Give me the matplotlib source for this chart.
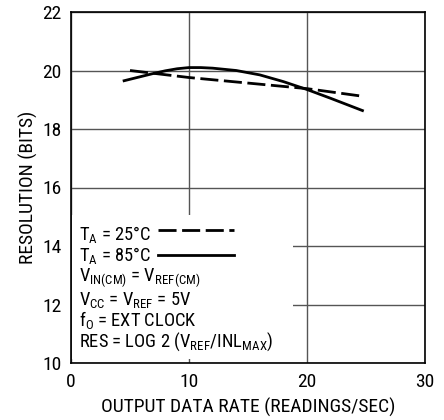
import matplotlib
matplotlib.use("Agg")
import matplotlib.pyplot as plt
from matplotlib import font_manager as fm

names = {f.name for f in fm.fontManager.ttflist}
FONT = "Roboto Condensed" if "Roboto Condensed" in names else "Liberation Sans"
plt.rcParams['font.family'] = [FONT, 'DejaVu Sans']
plt.rcParams['mathtext.fontset'] = 'custom'
plt.rcParams['mathtext.rm'] = FONT
plt.rcParams['mathtext.it'] = FONT
plt.rcParams['mathtext.default'] = 'rm'

# data
x_25 = [5, 10, 15, 20, 24.7]
y_25 = [20.0, 19.76, 19.57, 19.38, 19.12]
x_85 = [4.5, 6, 7, 8, 9, 10, 11, 12, 14, 16, 18, 20, 22, 24.7]
y_85 = [19.65, 19.8, 19.9, 19.99, 20.06, 20.1, 20.1, 20.08, 20.0, 19.85, 19.62, 19.35, 19.05, 18.63]
x_ticks = [0, 10, 20, 30]
y_ticks = [10, 12, 14, 16, 18, 20, 22]
legend_lines = [
    r"T$_{A}$ = 25°C",
    r"T$_{A}$ = 85°C",
    r"V$_{IN(CM)}$ = V$_{REF(CM)}$",
    r"V$_{CC}$ = V$_{REF}$ = 5V",
    r"f$_{O}$ = EXT CLOCK",
    r"RES = LOG 2 (V$_{REF}$/INL$_{MAX}$)",
]

FS = 14
LFS = 13.3
W, H = 444, 420
fig = plt.figure(figsize=(W/100, H/100), dpi=100)
ax = fig.add_axes([71/W, 1-363/H, (425-71)/W, (363-12)/H])
ax.set_xlim(0, 30)
ax.set_ylim(10, 22)
ax.set_xticks(x_ticks)
ax.set_yticks(y_ticks)
ax.tick_params(length=0, labelsize=FS, pad=7)
ax.grid(True, color='#555555', linewidth=1.0)
ax.set_axisbelow(True)
for s in ax.spines.values():
    s.set_linewidth(1.2)
ax.set_xlabel("OUTPUT DATA RATE (READINGS/SEC)", fontsize=FS, labelpad=5)
ax.set_ylabel("RESOLUTION (BITS)", fontsize=FS, labelpad=3)

ax.plot(x_25, y_25, color='black', lw=2.0, dashes=(6.5, 2), zorder=4)
ax.plot(x_85, y_85, color='black', lw=2.0, zorder=4)

# white legend box
ax.add_patch(plt.Rectangle((0.1, 10.14), 18.7, 15.05-10.14, facecolor='white',
                           edgecolor='none', zorder=3))
ys = [14.205, 13.48, 12.80, 12.0, 11.25, 10.55]
for t, yy in zip(legend_lines, ys):
    ax.text(0.65, yy, t, fontsize=LFS, va='baseline', ha='left', zorder=5)
ax.plot([7.35, 13.8], [14.53, 14.53], color='black', lw=2.0, dashes=(6.5, 2), zorder=5)
ax.plot([7.35, 13.8], [13.69, 13.69], color='black', lw=2.0, zorder=5)

fig.savefig("out.png", dpi=100)
